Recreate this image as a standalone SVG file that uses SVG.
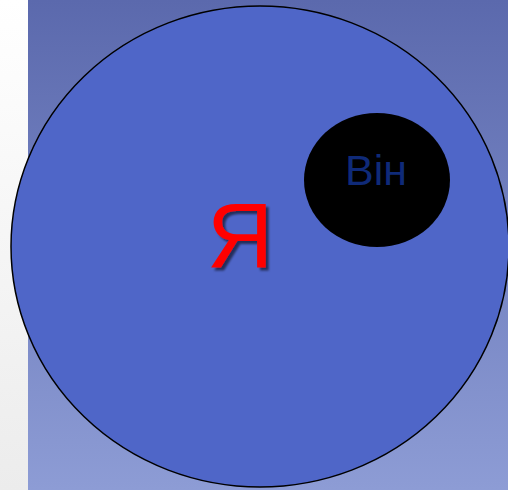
<svg xmlns="http://www.w3.org/2000/svg" width="508" height="490" viewBox="0 0 508 490">
<defs>
<linearGradient id="bg" x1="0" y1="0" x2="0" y2="1">
<stop offset="0" stop-color="#5b69ad"/>
<stop offset="1" stop-color="#8d9cd5"/>
</linearGradient>
<linearGradient id="side" x1="0" y1="0" x2="0" y2="1">
<stop offset="0" stop-color="#ffffff"/>
<stop offset="1" stop-color="#ececec"/>
</linearGradient>
<filter id="sh" x="-20%" y="-20%" width="150%" height="150%">
<feGaussianBlur in="SourceAlpha" stdDeviation="1.2"/>
<feOffset dx="3" dy="3" result="b"/>
<feFlood flood-color="#000" flood-opacity="0.55"/>
<feComposite in2="b" operator="in"/>
<feMerge><feMergeNode/><feMergeNode in="SourceGraphic"/></feMerge>
</filter>
</defs>
<style>
.t{font-family:"Liberation Sans",Arial,sans-serif;text-anchor:middle}
</style>
<rect x="0" y="0" width="28" height="490" fill="url(#side)"/>
<rect x="28" y="0" width="480" height="490" fill="url(#bg)"/>
<g id="me">
<ellipse cx="260" cy="246.5" rx="249" ry="240.5" fill="#4f66c8" stroke="#000" stroke-width="1.5"/>
<text class="t" x="240" y="268" font-size="92" fill="#ff0000" filter="url(#sh)">Я</text>
</g>
<g id="he">
<ellipse cx="377" cy="180" rx="73" ry="67" fill="#000"/>
<text class="t" x="376" y="185" font-size="43" fill="#0f2a78">Він</text>
</g>
<g id="connectors"/>
</svg>
